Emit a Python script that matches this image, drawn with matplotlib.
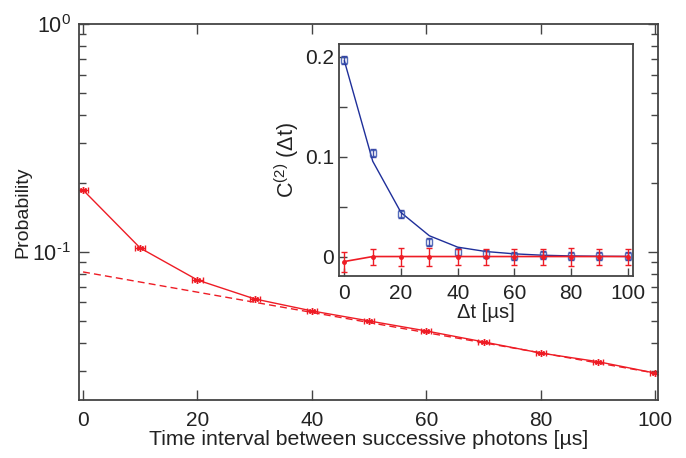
import matplotlib
matplotlib.use("Agg")
import matplotlib.pyplot as plt
from matplotlib.ticker import NullFormatter, LogLocator, MultipleLocator, FuncFormatter
import numpy as np

plt.rcParams['font.family'] = ['Liberation Sans', 'DejaVu Sans']
plt.rcParams['mathtext.fontset'] = 'custom'
plt.rcParams['mathtext.rm'] = 'Liberation Sans'
plt.rcParams['mathtext.it'] = 'Liberation Sans:italic'
plt.rcParams['axes.unicode_minus'] = False

# ---- data: main plot ----
t_main = [0, 10, 20, 30, 40, 50, 60, 70, 80, 90, 100]
p_main = [0.187, 0.104, 0.0753, 0.0622, 0.0551, 0.0498, 0.0450, 0.0403, 0.0360, 0.0330, 0.0294]
fit_t = [0, 100]
fit_p = [0.0817, 0.0294]
main_xticks = [0, 20, 40, 60, 80, 100]

# ---- data: inset ----
t_in = [0, 10, 20, 30, 40, 50, 60, 70, 80, 90, 100]
c2_blue = [0.197, 0.104, 0.043, 0.0145, 0.005, 0.003, 0.001, 0.002, 0.001, 0.0005, 0.0005]
c2_blue_err = [0.004, 0.004, 0.004, 0.004, 0.004, 0.004, 0.004, 0.004, 0.004, 0.004, 0.004]
c2_blue_fit = [0.196, 0.0955, 0.044, 0.0208, 0.0094, 0.005, 0.0027, 0.0013, 0.0006, 0.0003, 0.0001]
c2_red = [-0.005, 0.0, 0.0, 0.0, 0.0, 0.0, 0.0, 0.0, 0.0, 0.0, 0.0]
c2_red_err = [0.010, 0.008, 0.009, 0.009, 0.008, 0.008, 0.008, 0.008, 0.009, 0.008, 0.008]
in_xticks = [0, 20, 40, 60, 80, 100]
in_yticks = [0, 0.1, 0.2]
in_yticklabels = ['0', '0.1', '0.2']

RED = '#ee1c25'
BLUE = '#1f2f9a'
SPINE = '#444444'
TXT = '#222222'

fig = plt.figure(figsize=(6.86, 4.58), dpi=100)
ax = fig.add_axes([0.1152, 0.1266, 0.9592 - 0.1152, 0.9476 - 0.1266])

ax.plot(fit_t, fit_p, color=RED, lw=1.0, ls=(0, (5, 3)))
ax.errorbar(t_main, p_main, xerr=0.9, color=RED, lw=1.0, marker=(6, 2, 0), ms=5,
            mew=1.0, capsize=2, elinewidth=1.0)
ax.set_yscale('log')
ax.set_xlim(-0.7, 100.5)
ax.set_ylim(0.0224, 1.0)
ax.set_xticks(main_xticks)
ax.yaxis.set_major_locator(LogLocator(base=10, numticks=10))
ax.yaxis.set_major_formatter(FuncFormatter(
    lambda v, p: r'$10^{\text{%d}}$' % int(round(np.log10(v)))))
ax.yaxis.set_minor_locator(LogLocator(base=10, subs=np.arange(2, 10), numticks=20))
ax.yaxis.set_minor_formatter(NullFormatter())
ax.tick_params(which='both', direction='in', top=True, right=True, color=SPINE,
               labelcolor=TXT)
ax.tick_params(axis='x', labelsize=15, pad=8)
ax.tick_params(axis='y', labelsize=15.5, pad=6)
ax.tick_params(which='major', length=7, width=1.0)
ax.tick_params(which='minor', length=5, width=1.0)
for s in ax.spines.values():
    s.set_color(SPINE)
    s.set_linewidth(1.3)
ax.set_xlabel('Time interval between successive photons [µs]', fontsize=15.3, color=TXT, labelpad=0)
ax.set_ylabel('Probability', fontsize=14, color=TXT)
ax.yaxis.set_label_coords(-0.083, 0.5)

# ---- inset ----
ai = fig.add_axes([0.4942, 0.3974, 0.4286, 0.5066])
ai.plot(t_in, c2_blue_fit, color=BLUE, lw=1.0, zorder=3)
ai.errorbar(t_in, c2_blue, yerr=c2_blue_err, color=BLUE, ls='none', marker='s', ms=4,
            mfc='none', mec='#3a55b0', mew=1.0, capsize=2, elinewidth=1.0, alpha=0.85, zorder=4)
ai.errorbar(t_in, c2_red, yerr=c2_red_err, color=RED, lw=1.2, marker='o', ms=2.5,
            capsize=2.5, elinewidth=1.0, zorder=5)
ai.set_xlim(-1.9, 101.9)
ai.set_ylim(-0.0195, 0.213)
ai.set_xticks(in_xticks)
ai.set_yticks(in_yticks)
ai.set_yticklabels(in_yticklabels)
ai.yaxis.set_minor_locator(MultipleLocator(0.05))
ai.tick_params(which='both', direction='in', color=SPINE, labelsize=15, labelcolor=TXT)
ai.tick_params(which='major', length=6, width=1.0)
ai.tick_params(which='minor', length=6, width=1.0)
ai.tick_params(axis='x', pad=6)
for s in ai.spines.values():
    s.set_color(SPINE)
    s.set_linewidth(1.3)
ai.set_xlabel('Δt [µs]', fontsize=14.5, color=TXT, labelpad=0)
ai.set_ylabel('C$^{(2)}$ (Δt)', fontsize=15.5, color=TXT, labelpad=3)

fig.savefig('out.png', dpi=100)
